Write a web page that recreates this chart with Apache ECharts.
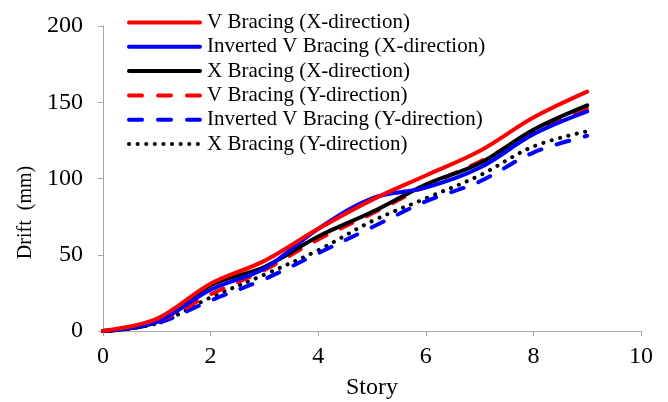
<!DOCTYPE html>
<html>
<head>
<meta charset="utf-8">
<script src="https://cdn.jsdelivr.net/npm/echarts@6/dist/echarts.min.js"></script>
<style>
html,body{margin:0;padding:0;background:#fff;}
#c{width:668px;height:402px;}
</style>
</head>
<body>
<div id="c"></div>
<script>
const stories = [0, 1, 2, 3, 4, 5, 6, 7, 8, 9];
const vBracingX = [0, 8, 31, 46, 67, 86, 102, 118, 140, 157];
const invVBracingX = [0, 6, 27, 41, 67, 87, 94, 107, 129, 144];
const xBracingX = [0, 6, 30, 42, 62, 78, 96, 110, 132, 148];
const vBracingY = [0, 6, 24, 40, 60, 77, 95, 111, 130, 146];
const invVBracingY = [0, 5, 20, 34, 51, 68, 85, 98, 117, 128];
const xBracingY = [0, 5, 22, 37, 53, 72, 87, 102, 121, 131];
const xTicks = [0, 2, 4, 6, 8, 10];
const yTicks = [0, 50, 100, 150, 200];

const pairs = arr => stories.map((s, i) => [s, arr[i]]);
const FONT = '"Liberation Serif", "Times New Roman", serif';

function mk(name, data, color, type) {
  const ls = { color: color, width: 4, type: type, cap: 'round' };
  return {
    name: name, type: 'line', data: pairs(data), smooth: 0.35,
    symbol: 'none', showSymbol: false, lineStyle: ls, itemStyle: { color: color },
    emphasis: { disabled: true }
  };
}

const chart = echarts.init(document.getElementById('c'), null, { renderer: 'canvas' });
chart.setOption({
  animation: false,
  backgroundColor: '#fff',
  grid: { left: 103, right: 27, top: 26, bottom: 71, outerBoundsMode: 'none', containLabel: false },
  legend: {
    orient: 'vertical', left: 122, top: 7,
    itemWidth: 71, itemHeight: 14, itemGap: 3.3,
    itemStyle: { opacity: 0 },
    lineStyle: { width: 4 },
    textStyle: { fontFamily: FONT, fontSize: 21, color: '#000', padding: [0, 0, 0, 2] },
    data: ['V Bracing (X-direction)', 'Inverted V Bracing (X-direction)', 'X Bracing (X-direction)',
           'V Bracing (Y-direction)', 'Inverted V Bracing (Y-direction)', 'X Bracing (Y-direction)']
  },
  xAxis: {
    type: 'value', min: 0, max: 10, interval: 2,
    name: 'Story', nameLocation: 'middle', nameGap: 45,
    nameTextStyle: { fontFamily: FONT, fontSize: 24, color: '#000' },
    axisLine: { show: true, lineStyle: { color: '#a6a6a6', width: 1 } },
    axisTick: { show: true, length: 5, lineStyle: { color: '#a6a6a6' } },
    axisLabel: { fontFamily: FONT, fontSize: 24, color: '#000', margin: 14,
      formatter: v => xTicks.includes(v) ? String(v) : '' },
    splitLine: { show: false }
  },
  yAxis: {
    type: 'value', min: 0, max: 200, interval: 50,
    name: 'Drift  (mm)', nameLocation: 'middle', nameGap: 63, nameRotate: 90,
    nameTextStyle: { fontFamily: FONT, fontSize: 20, color: '#000', padding: [0, 68, 0, 0] },
    axisLine: { show: true, lineStyle: { color: '#a6a6a6', width: 1 } },
    axisTick: { show: true, length: 5, lineStyle: { color: '#a6a6a6' } },
    axisLabel: { fontFamily: FONT, fontSize: 24, color: '#000', margin: 20,
      formatter: v => yTicks.includes(v) ? String(v) : '' },
    splitLine: { show: false }
  },
  series: [
    mk('X Bracing (Y-direction)', xBracingY, '#000000', [0.1, 8.5]),
    mk('Inverted V Bracing (Y-direction)', invVBracingY, '#0000ff', [13, 16]),
    mk('V Bracing (Y-direction)', vBracingY, '#ff0000', [13, 16]),
    mk('X Bracing (X-direction)', xBracingX, '#000000', 'solid'),
    mk('Inverted V Bracing (X-direction)', invVBracingX, '#0000ff', 'solid'),
    mk('V Bracing (X-direction)', vBracingX, '#ff0000', 'solid')
  ]
});
</script>
</body>
</html>
